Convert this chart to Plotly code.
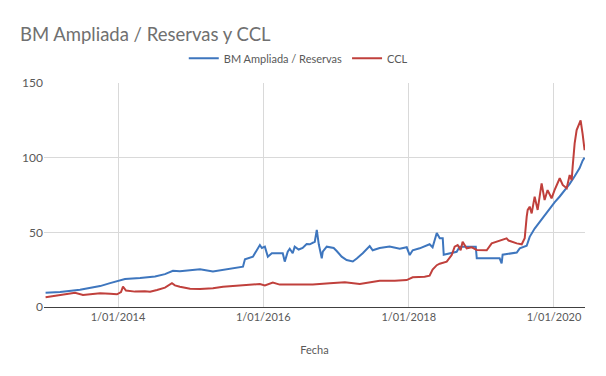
import plotly.graph_objects as go

# BM Ampliada / Reservas
bm_dates = [
    "2013-01-02", "2013-03-16", "2013-06-24", "2013-10-03", "2013-11-22", "2013-12-22",
    "2014-01-11", "2014-02-05", "2014-04-22", "2014-07-06", "2014-08-25", "2014-10-04",
    "2014-11-08", "2014-12-29", "2015-02-17", "2015-04-23", "2015-06-23", "2015-09-21",
    "2015-10-01", "2015-11-10", "2015-12-15", "2015-12-25", "2016-01-09", "2016-01-24",
    "2016-02-13", "2016-03-09", "2016-04-08", "2016-04-18", "2016-05-03", "2016-05-13",
    "2016-05-28", "2016-06-07", "2016-06-27", "2016-07-17", "2016-08-06", "2016-08-22",
    "2016-09-16", "2016-09-26", "2016-10-06", "2016-10-21", "2016-10-26", "2016-11-15",
    "2016-12-20", "2017-01-04", "2017-01-29", "2017-02-23", "2017-03-26", "2017-04-15",
    "2017-05-15", "2017-06-19", "2017-07-04", "2017-08-08", "2017-09-27", "2017-11-17",
    "2017-12-22", "2018-01-06", "2018-01-21", "2018-02-25", "2018-04-16", "2018-05-01",
    "2018-05-12", "2018-05-22", "2018-06-06", "2018-06-21", "2018-06-26", "2018-08-30",
    "2018-09-14", "2018-12-04", "2018-12-09", "2019-04-03", "2019-04-13", "2019-04-18",
    "2019-06-28", "2019-07-13", "2019-08-17", "2019-09-01", "2019-09-26", "2019-10-21",
    "2019-11-15", "2019-12-10", "2020-01-04", "2020-01-30", "2020-02-24", "2020-03-20",
    "2020-04-14", "2020-05-09", "2020-05-24", "2020-06-03",
]
bm_values = [
    9.6, 10.0, 11.5, 14.0, 16.0, 17.2,
    17.5, 18.8, 19.5, 20.5, 22.0, 24.3,
    24.0, 24.5, 25.2, 23.7, 25.0, 27.0,
    31.9, 33.7, 41.5, 39.5, 40.4, 33.7,
    36.0, 36.0, 36.0, 30.4, 37.0, 39.0,
    36.0, 40.4, 38.5, 39.5, 42.2, 42.0,
    43.7, 51.6, 42.0, 32.6, 37.0, 40.4,
    39.5, 37.5, 33.7, 31.5, 30.5, 32.5,
    36.0, 40.8, 38.0, 39.5, 40.5, 39.0,
    40.0, 34.8, 38.0, 39.3, 42.0, 40.0,
    45.0, 49.5, 46.0, 46.0, 35.0, 37.0,
    40.4, 40.4, 32.6, 32.6, 29.2, 35.0,
    36.5, 39.3, 41.0, 47.0, 52.5, 57.0,
    61.5, 66.0, 70.0, 74.0, 78.0, 82.5,
    87.5, 93.0, 98.0, 100.0,
]

# CCL
ccl_dates = [
    "2013-01-02", "2013-02-18", "2013-04-20", "2013-05-30", "2013-07-09", "2013-08-13",
    "2013-10-03", "2013-11-22", "2013-12-27", "2014-01-16", "2014-01-26", "2014-02-10",
    "2014-03-27", "2014-05-16", "2014-06-11", "2014-07-16", "2014-08-25", "2014-09-29",
    "2014-10-14", "2014-11-08", "2014-12-29", "2015-02-17", "2015-04-23", "2015-06-13",
    "2015-09-06", "2015-12-15", "2016-01-09", "2016-02-18", "2016-03-24", "2016-07-02",
    "2016-09-06", "2016-11-30", "2017-02-14", "2017-04-30", "2017-08-08", "2017-10-23",
    "2017-12-22", "2018-01-21", "2018-03-22", "2018-04-16", "2018-05-01", "2018-05-22",
    "2018-06-06", "2018-07-11", "2018-08-05", "2018-08-20", "2018-09-04", "2018-09-19",
    "2018-09-29", "2018-10-19", "2018-11-14", "2018-12-09", "2019-01-28", "2019-02-22",
    "2019-03-19", "2019-04-13", "2019-05-08", "2019-05-18", "2019-06-28", "2019-07-23",
    "2019-08-07", "2019-08-17", "2019-08-22", "2019-09-01", "2019-09-11", "2019-09-26",
    "2019-10-11", "2019-10-31", "2019-11-15", "2019-11-30", "2019-12-20", "2020-01-04",
    "2020-01-30", "2020-02-14", "2020-03-05", "2020-03-20", "2020-03-30", "2020-04-04",
    "2020-04-14", "2020-04-24", "2020-05-09", "2020-05-14", "2020-05-24", "2020-05-29",
    "2020-06-03",
]
ccl_values = [
    6.5, 7.5, 8.7, 9.5, 8.0, 8.6,
    9.2, 8.8, 8.5, 10.0, 13.6, 11.0,
    10.3, 10.5, 10.2, 11.4, 13.0, 15.9,
    14.5, 13.6, 12.2, 12.0, 12.5, 13.6,
    14.5, 15.4, 14.5, 16.3, 15.0, 14.7,
    15.0, 15.9, 16.5, 15.4, 17.6, 17.5,
    18.0, 19.9, 20.3, 21.0, 25.0, 28.0,
    29.0, 30.4, 34.8, 40.4, 41.5, 38.0,
    43.7, 39.3, 40.0, 38.2, 38.0, 42.6,
    43.7, 44.9, 46.0, 44.5, 42.6, 42.0,
    46.0, 60.5, 65.0, 67.2, 62.7, 73.9,
    65.0, 82.8, 71.6, 78.3, 72.8, 78.3,
    86.2, 81.7, 79.5, 88.4, 85.0, 94.0,
    109.6, 118.5, 123.0, 125.0, 116.0, 112.0,
    105.0,
]

y_ticks = [0, 50, 100, 150]
x_ticks = ["2014-01-01", "2016-01-01", "2018-01-01", "2020-01-01"]
x_tick_labels = ["1/01/2014", "1/01/2016", "1/01/2018", "1/01/2020"]

FONT = "Lato, 'Open Sans', sans-serif"
GREY = "#595959"

# The page body has an 8px margin, so the figure is drawn 8px in from the window edge.
W, H = 598, 368

fig = go.Figure()
fig.add_trace(go.Scatter(x=bm_dates, y=bm_values, mode="lines",
                         name="BM Ampliada / Reservas",
                         line=dict(color="#3E76BE", width=2)))
fig.add_trace(go.Scatter(x=ccl_dates, y=ccl_values, mode="lines",
                         name="CCL",
                         line=dict(color="#C0403C", width=2)))

fig.update_layout(
    width=W, height=H,
    margin=dict(l=36, r=21, t=75, b=69),
    paper_bgcolor="white", plot_bgcolor="white",
    font=dict(family=FONT, color=GREY, size=11),
    title=dict(text="BM Ampliada / Reservas y CCL", x=12/W, xref="container",
               xanchor="left", y=1-27/H, yref="container", yanchor="middle",
               font=dict(family=FONT, size=18.5, color="#707070")),
    legend=dict(orientation="h", x=0.47, xanchor="center", y=1.11, yanchor="middle",
                font=dict(size=11, color=GREY), itemwidth=30,
                bgcolor="rgba(0,0,0,0)"),
    showlegend=True,
)
fig.update_xaxes(
    range=["2012-12-25", "2020-06-05"],
    tickvals=x_ticks, ticktext=x_tick_labels,
    showgrid=True, gridcolor="#d9d9d9", gridwidth=1,
    showline=True, linecolor="#404040", linewidth=1,
    ticks="", tickfont=dict(size=11, color=GREY),
    title=dict(text="Fecha", standoff=24, font=dict(size=11, color=GREY)),
    zeroline=False,
)
fig.update_yaxes(
    range=[0, 150], tickvals=y_ticks,
    showgrid=True, gridcolor="#d9d9d9", gridwidth=1,
    showline=False, zeroline=False, ticks="",
    tickfont=dict(size=12, color=GREY),
)

fig.write_html("out.html")
